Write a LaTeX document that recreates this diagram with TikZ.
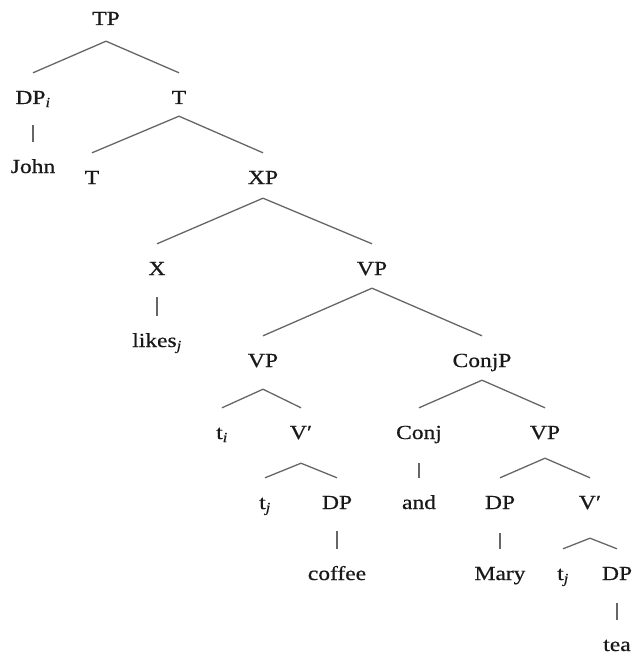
\documentclass[tikz,border=0pt]{standalone}
\usepackage{fontspec}
\setmainfont{Liberation Serif}[FakeStretch=1.18,FakeBold=0.6]

\begin{document}
\begin{tikzpicture}[x=1bp,y=-1bp,
		lab/.style={anchor=base, inner sep=0pt, text height=31bp, text depth=18bp, font=\fontsize{20}{24}\selectfont, text=black!90},
		br/.style={draw=black!60, line width=1.3bp}]
		\useasboundingbox (0,0) rectangle (636,654);
		\node [lab, text depth=16bp] (tp) at (106,25) {TP};
		\node [lab, text depth=21bp] (dpi) at (33,104) {DP\textsubscript{\itshape i}};
		\node [lab, text depth=12bp] (tbar) at (179,104) {T};
		\node [lab] (john) at (33,173) {John};
		\node [lab] (thead) at (92,184) {T};
		\node [lab, text depth=14bp] (xp) at (263,184) {XP};
		\node [lab, text depth=22bp] (x) at (157,275) {X};
		\node [lab, text depth=13bp] (vp) at (372,275) {VP};
		\node [lab] (likes) at (157,347) {likes\textsubscript{\itshape j}};
		\node [lab, text depth=22bp] (vpa) at (263,367) {VP};
		\node [lab, text depth=13bp] (conjp) at (482,367) {ConjP};
		\node [lab] (ti) at (222,439) {t\textsubscript{\itshape i}};
		\node [lab, text depth=24bp] (vbara) at (301,439) {V′};
		\node [lab, text depth=24bp] (conj) at (419,439) {Conj};
		\node [lab, text depth=19bp] (vpb) at (545,439) {VP};
		\node [lab] (tja) at (265,509) {t\textsubscript{\itshape j}};
		\node [lab, text depth=22bp] (dpa) at (337,509) {DP};
		\node [lab] (andw) at (419,509) {and};
		\node [lab, text depth=24bp] (dpb) at (500,509) {DP};
		\node [lab, text depth=29bp] (vbarb) at (590,509) {V′};
		\node [lab] (coffee) at (337,580) {coffee};
		\node [lab] (mary) at (500,580) {Mary};
		\node [lab] (tjb) at (563,580) {t\textsubscript{\itshape j}};
		\node [lab, text depth=23bp] (dpc) at (617,580) {DP};
		\node [lab] (tea) at (617,651) {tea};
		\draw [br] (tp.south) -- (dpi.north);
		\draw [br] (tp.south) -- (tbar.north);
		\draw [br] (dpi.south) -- (john.north);
		\draw [br] (tbar.south) -- (thead.north);
		\draw [br] (tbar.south) -- (xp.north);
		\draw [br] (xp.south) -- (x.north);
		\draw [br] (xp.south) -- (vp.north);
		\draw [br] (x.south) -- (likes.north);
		\draw [br] (vp.south) -- (vpa.north);
		\draw [br] (vp.south) -- (conjp.north);
		\draw [br] (vpa.south) -- (ti.north);
		\draw [br] (vpa.south) -- (vbara.north);
		\draw [br] (vbara.south) -- (tja.north);
		\draw [br] (vbara.south) -- (dpa.north);
		\draw [br] (dpa.south) -- (coffee.north);
		\draw [br] (conjp.south) -- (conj.north);
		\draw [br] (conjp.south) -- (vpb.north);
		\draw [br] (conj.south) -- (andw.north);
		\draw [br] (vpb.south) -- (dpb.north);
		\draw [br] (vpb.south) -- (vbarb.north);
		\draw [br] (dpb.south) -- (mary.north);
		\draw [br] (vbarb.south) -- (tjb.north);
		\draw [br] (vbarb.south) -- (dpc.north);
		\draw [br] (dpc.south) -- (tea.north);
	\end{tikzpicture}
\end{document}
